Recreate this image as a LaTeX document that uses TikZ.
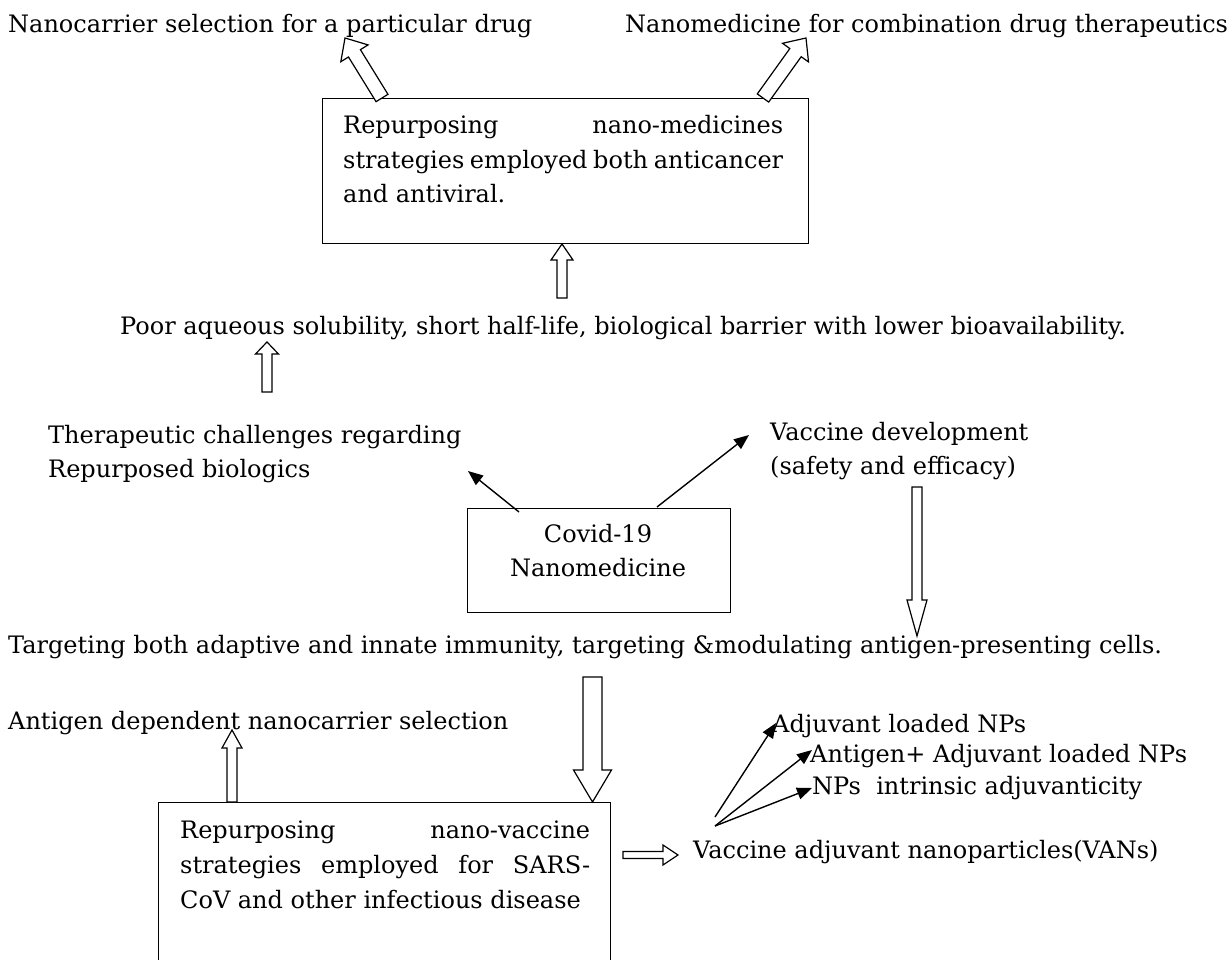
\documentclass[tikz,border=0pt]{standalone}
\usepackage{fontspec}
\setmainfont{DejaVu Serif}
\usetikzlibrary{calc,arrows.meta}
\newcommand\mainfs{\fontsize{24}{34.5}\selectfont}
\tikzset{
  txt/.style={anchor=base west, inner sep=0pt, font=\mainfs},
  ctxt/.style={anchor=base, inner sep=0pt, font=\mainfs},
  boxed/.style={draw, line width=1.3pt, anchor=north west, inner sep=0pt},
  hollow/.style={draw, line width=1.2pt, fill=white, line join=miter},
  thin/.style={line width=1.4pt, -{Triangle[length=15pt,width=12pt]}},
}
\newcommand\blockarrow[5]{%
  \draw[hollow] ($(#1)!#3!90:(#2)$) -- ($(#2)!#5!(#1)!#3!-90:(#1)$) -- ($(#2)!#5!(#1)!#4!-90:(#1)$) -- (#2) -- ($(#2)!#5!(#1)!#4!90:(#1)$) -- ($(#2)!#5!(#1)!#3!90:(#1)$) -- ($(#1)!#3!-90:(#2)$) -- cycle;}
\begin{document}
\begin{tikzpicture}[x=1pt,y=-1pt]
\clip (0,0) rectangle (1232,960);
\fill[white] (0,0) rectangle (1232,960);
% texts
\node[txt] (ncs) at (8,33) {Nanocarrier selection for a particular drug};
\node[txt] (ncd) at (625,33) {Nanomedicine for combination drug therapeutics};
% box 1
\node[boxed, minimum width=486pt, minimum height=145pt] (b1) at (322,98) {};
\node[txt] (b1a) at (343,134) {\makebox[440pt][s]{Repurposing nano-medicines}};
\node[txt] (b1b) at (343,168.5) {\makebox[440pt][s]{strategies employed both anticancer}};
\node[txt] (b1c) at (343,203) {and antiviral.};
\node[txt] (poor) at (120,334) {Poor aqueous solubility, short half-life, biological barrier with lower bioavailability.};
\node[txt] (thera1) at (48,443) {Therapeutic challenges regarding};
\node[txt] (thera2) at (48,477) {Repurposed biologics};
\node[txt] (vac1) at (770,440) {Vaccine development};
\node[txt] (vac2) at (770,474) {(safety and efficacy)};
\node[boxed, minimum width=263pt, minimum height=104pt] (cov) at (467,508) {};
\node[ctxt] (cov1) at (598,542) {Covid-19};
\node[ctxt] (cov2) at (598,576) {Nanomedicine};
\node[txt] (targ) at (8,653) {Targeting both adaptive and innate immunity, targeting \&modulating antigen-presenting cells.};
\node[txt] (antdep) at (8,729) {Antigen dependent nanocarrier selection};
\node[txt] (adj1) at (772,732) {Adjuvant loaded NPs};
\node[txt] (adj2) at (810,762) {Antigen+ Adjuvant loaded NPs};
\node[txt] (adj3) at (812,794) {NPs\ \ intrinsic adjuvanticity};
\node[txt] (vans) at (693,858) {Vaccine adjuvant nanoparticles(VANs)};
% box 2
\node[boxed, minimum width=452pt, minimum height=200pt] (b2) at (158,802) {};
\node[txt] (b2a) at (180,838) {\makebox[410pt][s]{Repurposing nano-vaccine}};
\node[txt] (b2b) at (180,873) {\makebox[410pt][s]{strategies employed for SARS-}};
\node[txt] (b2c) at (180,908) {CoV and other infectious disease};
% arrow end points
\coordinate (a1s) at (382,98);  \coordinate (a1e) at (345,38);
\coordinate (a2s) at (763,98);  \coordinate (a2e) at (806,38);
\coordinate (a3s) at (562,298); \coordinate (a3e) at (562,244);
\coordinate (a4s) at (267,392); \coordinate (a4e) at (267,342);
\coordinate (a5s) at (917,487); \coordinate (a5e) at (917,636);
\coordinate (a6s) at (592.5,677); \coordinate (a6e) at (592.5,802);
\coordinate (a7s) at (232,802); \coordinate (a7e) at (232,730);
\coordinate (a8s) at (623,855); \coordinate (a8e) at (678,855);
\blockarrow{a1s}{a1e}{7pt}{16pt}{18pt}
\blockarrow{a2s}{a2e}{7pt}{16pt}{18pt}
\blockarrow{a3s}{a3e}{5pt}{11pt}{16pt}
\blockarrow{a4s}{a4e}{5pt}{11.5pt}{12pt}
\blockarrow{a5s}{a5e}{5pt}{10pt}{36pt}
\blockarrow{a6s}{a6e}{9.5pt}{19pt}{32pt}
\blockarrow{a7s}{a7e}{5pt}{10pt}{18pt}
\blockarrow{a8s}{a8e}{3.5pt}{10pt}{15pt}
% thin arrows
\coordinate (t1s) at (519,512); \coordinate (t1e) at (468,471);
\coordinate (t2s) at (657,507); \coordinate (t2e) at (749,435);
\coordinate (t3s) at (715,817); \coordinate (t3e) at (776,723);
\coordinate (t4s) at (715,826); \coordinate (t4e) at (812,750);
\coordinate (t5e) at (812,788);
\draw[thin] (t1s) -- (t1e);
\draw[thin] (t2s) -- (t2e);
\draw[thin] (t3s) -- (t3e);
\draw[thin] (t4s) -- (t4e);
\draw[thin] (t4s) -- (t5e);
\end{tikzpicture}
\end{document}
